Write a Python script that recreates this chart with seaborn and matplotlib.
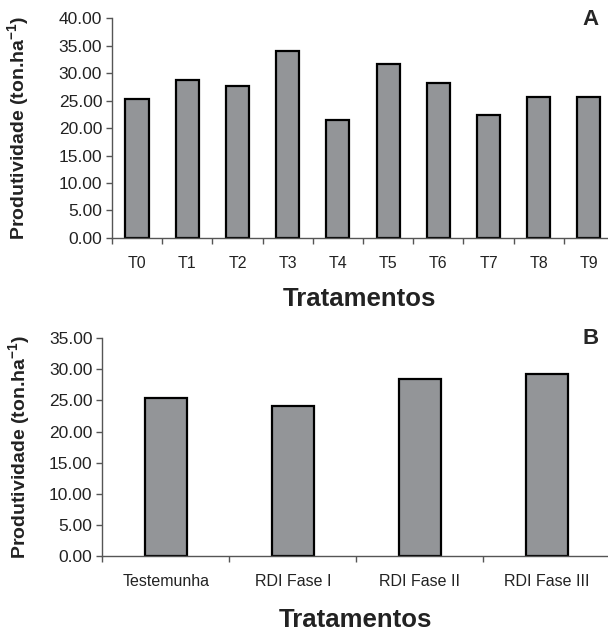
import numpy as np
import pandas as pd
import seaborn as sns
import matplotlib.pyplot as plt
from matplotlib.ticker import FixedLocator, FormatStrFormatter

# panel A - treatments T0..T9
trat_a = ['T0', 'T1', 'T2', 'T3', 'T4', 'T5', 'T6', 'T7', 'T8', 'T9']
prod_a = [25.3, 28.7, 27.7, 34.05, 21.45, 31.75, 28.3, 22.4, 25.75, 25.75]

# panel B - irrigation phases
trat_b = ['Testemunha', 'RDI Fase I', 'RDI Fase II', 'RDI Fase III']
prod_b = [25.35, 24.1, 28.4, 29.25]

df_a = pd.DataFrame({'trat': trat_a, 'prod': prod_a})
df_b = pd.DataFrame({'trat': trat_b, 'prod': prod_b})

sns.set_style('white')
plt.rcParams['font.family'] = ['Liberation Sans', 'DejaVu Sans']
plt.rcParams['mathtext.fontset'] = 'custom'
plt.rcParams['mathtext.rm'] = 'Liberation Sans'
plt.rcParams['mathtext.bf'] = 'Liberation Sans:bold'

fig = plt.figure(figsize=(6.08, 6.31), dpi=100)
ax1 = fig.add_axes([0.184, 0.623, 0.816, 0.348])
ax2 = fig.add_axes([0.168, 0.119, 0.832, 0.345])

bar_col = '#939598'
spine_col = '#555555'
txt_col = '#222222'


def style_axis(ax, n, ymax, step, xmax, xl_y, yl_x, xsize):
    ax.set_ylim(0, ymax)
    ax.set_xlim(-0.5, xmax)
    ax.yaxis.set_major_locator(FixedLocator(np.arange(0, ymax + 0.01, step)))
    ax.yaxis.set_major_formatter(FormatStrFormatter('%.2f'))
    # ticks between the categories, excel style
    ax.xaxis.set_minor_locator(FixedLocator(np.arange(-0.5, n + 0.5, 1)))
    ax.tick_params(axis='x', which='major', length=0, pad=13, labelsize=xsize, colors=txt_col)
    ax.tick_params(axis='x', which='minor', length=4, width=1, color=spine_col, direction='out', bottom=True)
    ax.tick_params(axis='y', which='major', length=4, width=1, color=spine_col, direction='out', left=True,
                   labelsize=12.5, colors=txt_col, pad=3)
    for s in ['top', 'right']:
        ax.spines[s].set_visible(False)
    for s in ['left', 'bottom']:
        ax.spines[s].set_color(spine_col)
        ax.spines[s].set_linewidth(1)
    ax.set_ylabel(r'Produtividade (ton.ha$^{\mathbf{-1}}$)', fontsize=14, fontweight='bold', color=txt_col)
    ax.set_xlabel('Tratamentos', fontsize=18.5, fontweight='bold', color=txt_col)
    ax.xaxis.set_label_coords(0.5, xl_y)
    ax.yaxis.set_label_coords(yl_x, 0.5)


sns.barplot(data=df_a, x='trat', y='prod', ax=ax1, color=bar_col, width=0.46,
            edgecolor='black', linewidth=1.6, saturation=1)
style_axis(ax1, len(trat_a), 40, 5, 9.38, -0.225, -0.161, 11.5)
ax1.text(0.985, 0.985, 'A', transform=fig.transFigure, ha='right', va='top',
         fontsize=16, fontweight='bold')

sns.barplot(data=df_b, x='trat', y='prod', ax=ax2, color=bar_col, width=0.33,
            edgecolor='black', linewidth=1.6, saturation=1)
style_axis(ax2, len(trat_b), 35, 5, 3.48, -0.237, -0.136, 11.5)
ax2.text(0.985, 0.48, 'B', transform=fig.transFigure, ha='right', va='top',
         fontsize=16, fontweight='bold')

fig.savefig('out.png', dpi=100)
